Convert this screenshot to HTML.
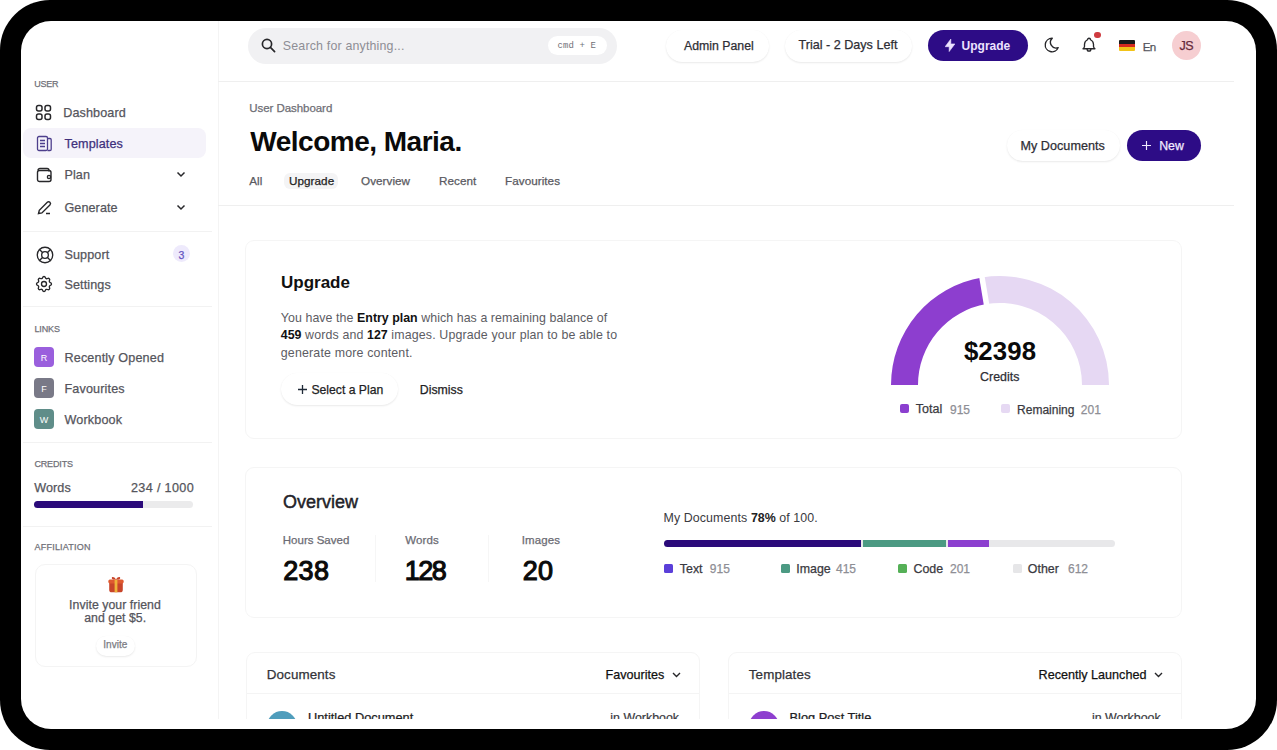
<!DOCTYPE html>
<html><head><meta charset="utf-8"><style>
html,body{margin:0;padding:0;width:1277px;height:750px;overflow:hidden;background:#fff;}
body{font-family:"Liberation Sans",sans-serif;position:relative;}
.frame{position:absolute;left:0;top:0;width:1277px;height:750px;background:#000;border-radius:50px;}
.inner{position:absolute;left:21px;top:21px;width:1235px;height:708px;background:#fff;border-radius:30px;overflow:hidden;}
.stage{position:absolute;left:-21px;top:-21px;width:1277px;height:750px;}
.t{position:absolute;line-height:1;white-space:nowrap;}
.r{position:absolute;}
.clip{position:absolute;overflow:hidden;}
b{font-weight:700;}
</style></head><body>
<div class="frame"></div>
<div class="inner"><div class="stage">
<div class="t" style="left:34.20px;top:79.98px;font-size:9px;color:#707078;font-weight:400;letter-spacing:-0.2px;-webkit-text-stroke:0.25px currentColor;">USER</div>
<svg class="r" style="left:35px;top:104px" width="17" height="17" viewBox="0 0 17 17" fill="none" stroke="#27272a" stroke-width="1.5"><rect x="1.5" y="1.5" width="5.5" height="5.5" rx="2"/><rect x="10" y="1.5" width="5.5" height="5.5" rx="2"/><rect x="1.5" y="10" width="5.5" height="5.5" rx="2"/><rect x="10" y="10" width="5.5" height="5.5" rx="2"/></svg>
<div class="t" style="left:63.30px;top:107.23px;font-size:12.6px;color:#55555c;font-weight:400;letter-spacing:0.1px;-webkit-text-stroke:0.25px currentColor;">Dashboard</div>
<div class="r" style="left:22.5px;top:128px;width:183px;height:30px;background:#f5f3fa;border-radius:8px;"></div>
<svg class="r" style="left:36px;top:135px" width="17" height="17" viewBox="0 0 17 17" fill="none" stroke="#4d3f8c" stroke-width="1.3"><rect x="1.5" y="1.5" width="10" height="14" rx="1.5"/><path d="M11.5 3.5h2.5a1.2 1.2 0 0 1 1.2 1.2v9.6a1.2 1.2 0 0 1-1.2 1.2h-2.5"/><path d="M4 5.5h5M4 8.5h5M4 11.5h5"/></svg>
<div class="t" style="left:64.60px;top:138.23px;font-size:12.6px;color:#40307c;font-weight:400;letter-spacing:0.1px;-webkit-text-stroke:0.25px currentColor;">Templates</div>
<svg class="r" style="left:36px;top:166px" width="17" height="17" viewBox="0 0 17 17" fill="none" stroke="#27272a" stroke-width="1.4"><path d="M2 4.5a2 2 0 0 1 2-2h7a2 2 0 0 1 2 2v1"/><rect x="1.5" y="4.5" width="13.5" height="11" rx="2"/><circle cx="13" cy="11" r="1.6"/></svg>
<div class="t" style="left:64.40px;top:169.43px;font-size:12.6px;color:#55555c;font-weight:400;letter-spacing:0.1px;-webkit-text-stroke:0.25px currentColor;">Plan</div>
<svg class="r" style="left:176px;top:171px" width="10" height="7" viewBox="0 0 10 7" fill="none" stroke="#27272a" stroke-width="1.5"><path d="M1.5 1.5l3.5 3.5 3.5-3.5"/></svg>
<svg class="r" style="left:36px;top:199px" width="17" height="17" viewBox="0 0 17 17" fill="none" stroke="#27272a" stroke-width="1.4"><path d="M2.5 14.5l.8-3.2 8-8a1.8 1.8 0 0 1 2.6 2.6l-8 8z"/><path d="M10 14.5h4"/></svg>
<div class="t" style="left:64.40px;top:201.73px;font-size:12.6px;color:#55555c;font-weight:400;letter-spacing:0.1px;-webkit-text-stroke:0.25px currentColor;">Generate</div>
<svg class="r" style="left:176px;top:203.5px" width="10" height="7" viewBox="0 0 10 7" fill="none" stroke="#27272a" stroke-width="1.5"><path d="M1.5 1.5l3.5 3.5 3.5-3.5"/></svg>
<div class="r" style="left:23px;top:230.5px;width:189px;height:1px;background:#f2f2f2;"></div>
<svg class="r" style="left:34.5px;top:244.5px" width="20" height="20" viewBox="0 0 24 24" fill="none" stroke="#27272a" stroke-width="1.6" stroke-linecap="round"><circle cx="12" cy="12" r="4"/><circle cx="12" cy="12" r="9.3"/><path d="M15 15l3.6 3.6M9 15l-3.6 3.6M5.4 5.4L9 9M18.6 5.4L15 9"/></svg>
<div class="t" style="left:64.50px;top:248.73px;font-size:12.6px;color:#55555c;font-weight:400;letter-spacing:0.1px;-webkit-text-stroke:0.25px currentColor;">Support</div>
<div class="r" style="left:173px;top:245px;width:17px;height:17px;background:#eeeafc;border-radius:50%;"></div>
<div class="t" style="left:181.50px;transform:translateX(-50%);top:249.51px;font-size:10.5px;color:#6354c0;font-weight:400;letter-spacing:0px;-webkit-text-stroke:0.25px currentColor;">3</div>
<svg class="r" style="left:34.3px;top:274.3px" width="20" height="20" viewBox="0 0 24 24" fill="none" stroke="#27272a" stroke-width="1.6" stroke-linecap="round" stroke-linejoin="round"><path d="M10.325 4.317c.426 -1.756 2.924 -1.756 3.35 0a1.724 1.724 0 0 0 2.573 1.066c1.543 -.94 3.31 .826 2.37 2.37a1.724 1.724 0 0 0 1.065 2.572c1.756 .426 1.756 2.924 0 3.35a1.724 1.724 0 0 0 -1.066 2.573c.94 1.543 -.826 3.31 -2.37 2.37a1.724 1.724 0 0 0 -2.572 1.065c-.426 1.756 -2.924 1.756 -3.35 0a1.724 1.724 0 0 0 -2.573 -1.066c-1.543 .94 -3.31 -.826 -2.37 -2.37a1.724 1.724 0 0 0 -1.065 -2.572c-1.756 -.426 -1.756 -2.924 0 -3.35a1.724 1.724 0 0 0 1.066 -2.573c-.94 -1.543 .826 -3.31 2.37 -2.37c1 .608 2.296 .07 2.572 -1.065z"/><circle cx="12" cy="12" r="3"/></svg>
<div class="t" style="left:64.50px;top:279.03px;font-size:12.6px;color:#55555c;font-weight:400;letter-spacing:0.1px;-webkit-text-stroke:0.25px currentColor;">Settings</div>
<div class="r" style="left:23px;top:306px;width:189px;height:1px;background:#f2f2f2;"></div>
<div class="t" style="left:34.40px;top:324.88px;font-size:9px;color:#707078;font-weight:400;letter-spacing:-0.1px;-webkit-text-stroke:0.25px currentColor;">LINKS</div>
<div class="r" style="left:34px;top:347.3px;width:20px;height:20px;background:#9a5fdd;border-radius:4px;"></div>
<div class="t" style="left:44.00px;transform:translateX(-50%);top:353.88px;font-size:9px;color:#ffffff;font-weight:400;letter-spacing:0px;">R</div>
<div class="t" style="left:64.50px;top:352.33px;font-size:12.6px;color:#55555c;font-weight:400;letter-spacing:0.15px;-webkit-text-stroke:0.25px currentColor;">Recently Opened</div>
<div class="r" style="left:34px;top:378.3px;width:20px;height:20px;background:#797987;border-radius:4px;"></div>
<div class="t" style="left:44.00px;transform:translateX(-50%);top:384.88px;font-size:9px;color:#ffffff;font-weight:400;letter-spacing:0px;">F</div>
<div class="t" style="left:64.50px;top:383.33px;font-size:12.6px;color:#55555c;font-weight:400;letter-spacing:0.15px;-webkit-text-stroke:0.25px currentColor;">Favourites</div>
<div class="r" style="left:34px;top:409.4px;width:20px;height:20px;background:#5f8d89;border-radius:4px;"></div>
<div class="t" style="left:44.00px;transform:translateX(-50%);top:415.98px;font-size:9px;color:#ffffff;font-weight:400;letter-spacing:0px;">W</div>
<div class="t" style="left:64.50px;top:414.43px;font-size:12.6px;color:#55555c;font-weight:400;letter-spacing:0.15px;-webkit-text-stroke:0.25px currentColor;">Workbook</div>
<div class="r" style="left:23px;top:442px;width:189px;height:1px;background:#f2f2f2;"></div>
<div class="t" style="left:34.40px;top:459.88px;font-size:9px;color:#707078;font-weight:400;letter-spacing:-0.15px;-webkit-text-stroke:0.25px currentColor;">CREDITS</div>
<div class="t" style="left:34.20px;top:481.93px;font-size:12.6px;color:#55555c;font-weight:400;letter-spacing:0.1px;-webkit-text-stroke:0.25px currentColor;">Words</div>
<div class="t" style="right:1083.00px;top:481.93px;font-size:12.6px;color:#55555c;font-weight:400;letter-spacing:0.35px;-webkit-text-stroke:0.25px currentColor;">234 / 1000</div>
<div class="r" style="left:34px;top:501px;width:159px;height:7px;background:#ebebec;border-radius:4px;"></div>
<div class="r" style="left:34px;top:501px;width:109px;height:7px;background:#2b0a7a;border-radius:4px 0 0 4px;"></div>
<div class="r" style="left:23px;top:525.5px;width:189px;height:1px;background:#f2f2f2;"></div>
<div class="t" style="left:34.60px;top:542.88px;font-size:9px;color:#707078;font-weight:400;letter-spacing:0.2px;-webkit-text-stroke:0.25px currentColor;">AFFILIATION</div>
<div class="r" style="left:34.5px;top:563.5px;width:162.5px;height:103.5px;border:1px solid #f4f4f4;border-radius:10px;box-sizing:border-box;"></div>
<svg class="r" style="left:107px;top:574.5px" width="18" height="18" viewBox="0 0 18 18"><path d="M2.2 7.5h13.6v7.2a2.6 2.6 0 0 1-2.6 2.6H4.8a2.6 2.6 0 0 1-2.6-2.6z" fill="#c8452a"/><rect x="1.3" y="4.6" width="15.4" height="3.8" rx="1.6" fill="#df5a30"/><rect x="7.6" y="4.6" width="2.8" height="12.7" fill="#efb23a"/><path d="M9 4.6C7.6 1.6 4.6 1.4 4.8 3.2 5 4.4 7 4.6 9 4.6zM9 4.6c1.4-3 4.4-3.2 4.2-1.4-.2 1.2-2.2 1.4-4.2 1.4z" fill="#c8452a"/></svg>
<div class="t" style="left:115.00px;transform:translateX(-50%);top:598.69px;font-size:12.3px;color:#55555c;font-weight:400;letter-spacing:0.05px;-webkit-text-stroke:0.25px currentColor;">Invite your friend</div>
<div class="t" style="left:115.20px;transform:translateX(-50%);top:611.89px;font-size:12.3px;color:#55555c;font-weight:400;letter-spacing:0.05px;-webkit-text-stroke:0.25px currentColor;">and get $5.</div>
<div class="r" style="left:96px;top:636px;width:38.5px;height:20px;background:#fff;border-radius:10px;box-shadow:0 1px 2px rgba(0,0,0,0.085),0 0 0.5px rgba(0,0,0,0.04);"></div>
<div class="t" style="left:115.30px;transform:translateX(-50%);top:640.43px;font-size:10px;color:#7c7c83;font-weight:400;letter-spacing:0px;-webkit-text-stroke:0.25px currentColor;">Invite</div>
<div class="r" style="left:217.7px;top:21px;width:1px;height:698px;background:#f4f4f4;"></div>
<div class="r" style="left:248px;top:28px;width:369px;height:36px;background:#f1f1f3;border-radius:18px;"></div>
<svg class="r" style="left:260px;top:37px" width="17" height="17" viewBox="0 0 17 17" fill="none" stroke="#27272a" stroke-width="1.7"><circle cx="7" cy="7" r="4.6"/><path d="M10.4 10.4l4.2 4.2" stroke-linecap="round"/></svg>
<div class="t" style="left:282.80px;top:39.50px;font-size:12.4px;color:#8e8e95;font-weight:400;letter-spacing:0.18px;">Search for anything...</div>
<div class="r" style="left:548px;top:36px;width:59px;height:19px;background:#fff;border-radius:10px;"></div>
<div class="t" style="left:557.50px;top:42.08px;font-size:9px;color:#707077;font-weight:400;letter-spacing:0.1px;font-family:'Liberation Mono',monospace;">cmd + E</div>
<div class="r" style="left:666px;top:30px;width:103px;height:32px;background:#fff;border-radius:16px;box-shadow:0 1px 2px rgba(0,0,0,0.085),0 0 0.5px rgba(0,0,0,0.04);"></div>
<div class="t" style="left:684.00px;top:39.59px;font-size:12.3px;color:#2e2e35;font-weight:400;letter-spacing:0px;-webkit-text-stroke:0.25px currentColor;">Admin Panel</div>
<div class="r" style="left:785px;top:30px;width:127px;height:32px;background:#fff;border-radius:16px;box-shadow:0 1px 2px rgba(0,0,0,0.085),0 0 0.5px rgba(0,0,0,0.04);"></div>
<div class="t" style="left:798.50px;top:39.33px;font-size:12.6px;color:#2e2e35;font-weight:400;letter-spacing:0px;-webkit-text-stroke:0.25px currentColor;">Trial - 2 Days Left</div>
<div class="r" style="left:928px;top:30px;width:100px;height:31px;background:#2d0c86;border-radius:16px;"></div>
<svg class="r" style="left:945.3px;top:39.3px" width="10" height="12.6" viewBox="5 3 14 18"><path d="M13.2 3v7h5.8l-8.2 11v-7H5z" fill="#ece2ff" stroke="#ece2ff" stroke-width="0.8" stroke-linejoin="round"/></svg>
<div class="t" style="left:961.60px;top:39.84px;font-size:12px;color:#ece2ff;font-weight:700;letter-spacing:0px;">Upgrade</div>
<svg class="r" style="left:1043px;top:36.3px" width="18" height="18" viewBox="0 0 24 24" fill="none" stroke="#27272a" stroke-width="1.8" stroke-linecap="round" stroke-linejoin="round"><path d="M12 3c.132 0 .263 0 .393 0a7.5 7.5 0 0 0 7.92 12.446a9 9 0 1 1 -8.313 -12.454z"/></svg>
<svg class="r" style="left:1080px;top:36px" width="18" height="18" viewBox="0 0 24 24" fill="none" stroke="#27272a" stroke-width="1.8" stroke-linecap="round" stroke-linejoin="round"><path d="M10 5a2 2 0 1 1 4 0a7 7 0 0 1 4 6v3a4 4 0 0 0 2 3h-16a4 4 0 0 0 2 -3v-3a7 7 0 0 1 4 -6"/><path d="M9.5 17v.5a2.5 2.5 0 0 0 5 0v-.5"/></svg>
<div class="r" style="left:1094.2px;top:31.8px;width:6.6px;height:6.6px;background:#cf3b40;border-radius:50%;"></div>
<div class="r" style="left:1118.5px;top:40px;width:16.5px;height:10.5px;background:linear-gradient(#1a1a1a 0 33%,#d62a1f 33% 66%,#f2c318 66%);border-radius:1px;"></div>
<div class="t" style="left:1142.80px;top:40.88px;font-size:11.6px;color:#55555c;font-weight:400;letter-spacing:-0.7px;-webkit-text-stroke:0.25px currentColor;">En</div>
<div class="r" style="left:1171.5px;top:30.6px;width:29.5px;height:29.8px;background:#f6ced1;border-radius:50%;"></div>
<div class="t" style="left:1186.40px;transform:translateX(-50%);top:40.32px;font-size:12.5px;color:#66293a;font-weight:400;letter-spacing:-0.4px;-webkit-text-stroke:0.25px currentColor;">JS</div>
<div class="r" style="left:218px;top:80.5px;width:1016px;height:1px;background:#efefef;"></div>
<div class="t" style="left:249.20px;top:102.77px;font-size:11.5px;color:#6e6e75;font-weight:400;letter-spacing:-0.05px;-webkit-text-stroke:0.25px currentColor;">User Dashboard</div>
<div class="t" style="left:250.30px;top:127.90px;font-size:28px;color:#0a0a0a;font-weight:700;letter-spacing:-0.5px;">Welcome, Maria.</div>
<div class="r" style="left:284px;top:172.5px;width:54px;height:16.5px;background:#f4f4f5;border-radius:6px;"></div>
<div class="t" style="left:249.20px;top:174.80px;font-size:11.7px;color:#5a5a61;font-weight:400;letter-spacing:0.05px;-webkit-text-stroke:0.25px currentColor;">All</div>
<div class="t" style="left:289.00px;top:174.80px;font-size:11.7px;color:#1e1e22;font-weight:400;letter-spacing:0.05px;-webkit-text-stroke:0.25px currentColor;">Upgrade</div>
<div class="t" style="left:361.00px;top:174.80px;font-size:11.7px;color:#5a5a61;font-weight:400;letter-spacing:0.05px;-webkit-text-stroke:0.25px currentColor;">Overview</div>
<div class="t" style="left:439.00px;top:174.80px;font-size:11.7px;color:#5a5a61;font-weight:400;letter-spacing:0.05px;-webkit-text-stroke:0.25px currentColor;">Recent</div>
<div class="t" style="left:505.00px;top:174.80px;font-size:11.7px;color:#5a5a61;font-weight:400;letter-spacing:0.05px;-webkit-text-stroke:0.25px currentColor;">Favourites</div>
<div class="r" style="left:1007px;top:130px;width:113px;height:31px;background:#fff;border-radius:16px;box-shadow:0 1px 2px rgba(0,0,0,0.085),0 0 0.5px rgba(0,0,0,0.04);"></div>
<div class="t" style="left:1020.40px;top:139.73px;font-size:12.6px;color:#2e2e35;font-weight:400;letter-spacing:0.05px;-webkit-text-stroke:0.25px currentColor;">My Documents</div>
<div class="r" style="left:1127px;top:130px;width:74px;height:31px;background:#2d0c86;border-radius:16px;"></div>
<svg class="r" style="left:1140.5px;top:140px" width="11" height="11" viewBox="0 0 11 11" stroke="#f2eaff" stroke-width="1.15"><path d="M5.5 1v9M1 5.5h9"/></svg>
<div class="t" style="left:1159.20px;top:139.79px;font-size:12.3px;color:#f2eaff;font-weight:400;letter-spacing:0px;-webkit-text-stroke:0.25px currentColor;">New</div>
<div class="r" style="left:218px;top:205px;width:1016px;height:1px;background:#efefef;"></div>
<div class="r" style="left:245px;top:240px;width:937px;height:199px;border:1px solid #f5f5f5;border-radius:9px;box-sizing:border-box;"></div>
<div class="t" style="left:281.00px;top:273.81px;font-size:17px;color:#111111;font-weight:700;letter-spacing:0px;">Upgrade</div>
<div class="t" style="left:280.80px;top:312.40px;font-size:12.4px;color:#5c5c63;font-weight:400;letter-spacing:0.07px;">You have the <b style="color:#111;letter-spacing:0">Entry plan</b> which has a remaining balance of</div>
<div class="t" style="left:280.80px;top:329.40px;font-size:12.4px;color:#5c5c63;font-weight:400;letter-spacing:0.14px;"><b style="color:#111;letter-spacing:0">459</b> words and <b style="color:#111;letter-spacing:0">127</b> images. Upgrade your plan to be able to</div>
<div class="t" style="left:280.80px;top:346.80px;font-size:12.4px;color:#5c5c63;font-weight:400;letter-spacing:0.17px;">generate more content.</div>
<div class="r" style="left:281px;top:373px;width:117px;height:32px;background:#fff;border-radius:16px;box-shadow:0 1px 2px rgba(0,0,0,0.085),0 0 0.5px rgba(0,0,0,0.04);"></div>
<svg class="r" style="left:296.5px;top:383.5px" width="11" height="11" viewBox="0 0 11 11" stroke="#1f2937" stroke-width="1.3"><path d="M5.5 1v9M1 5.5h9"/></svg>
<div class="t" style="left:311.40px;top:384.17px;font-size:12.2px;color:#1e1e24;font-weight:400;letter-spacing:0px;-webkit-text-stroke:0.25px currentColor;">Select a Plan</div>
<div class="t" style="left:419.80px;top:384.09px;font-size:12.3px;color:#1e1e24;font-weight:400;letter-spacing:0px;-webkit-text-stroke:0.25px currentColor;">Dismiss</div>
<svg class="r" style="left:880px;top:265px" width="240" height="130" viewBox="0 0 240 130">
<path d="M 11 120 A 109 109 0 0 1 102.01 12.49 L 106.47 39.12 A 82 82 0 0 0 38 120 Z" fill="#8d3ecf"/>
<path d="M 102.01 12.49 A 109 109 0 0 1 229 120 L 202 120 A 82 82 0 0 0 106.47 39.12 Z" fill="#e6d8f3"/>
<path d="M 107.13 43.07 L 101.35 8.55" stroke="#fff" stroke-width="5.5"/>
</svg>
<div class="t" style="left:1000.00px;transform:translateX(-50%);top:338.86px;font-size:25.8px;color:#0a0a0a;font-weight:700;letter-spacing:0.1px;">$2398</div>
<div class="t" style="left:999.80px;transform:translateX(-50%);top:370.90px;font-size:12.4px;color:#2e2e35;font-weight:400;letter-spacing:0.05px;-webkit-text-stroke:0.25px currentColor;">Credits</div>
<div class="r" style="left:899.5px;top:404.4px;width:9px;height:9px;background:#8b3fcf;border-radius:2px;"></div>
<div class="t" style="left:915.80px;top:403.42px;font-size:12.5px;color:#3a3a41;font-weight:400;letter-spacing:0px;-webkit-text-stroke:0.25px currentColor;">Total</div>
<div class="t" style="left:950.00px;top:403.84px;font-size:12px;color:#8e8e95;font-weight:400;letter-spacing:0px;-webkit-text-stroke:0.25px currentColor;">915</div>
<div class="r" style="left:1001.3px;top:404.4px;width:9px;height:9px;background:#e6d9f3;border-radius:2px;"></div>
<div class="t" style="left:1017.10px;top:403.84px;font-size:12px;color:#3a3a41;font-weight:400;letter-spacing:0px;-webkit-text-stroke:0.25px currentColor;">Remaining</div>
<div class="t" style="left:1080.80px;top:403.84px;font-size:12px;color:#8e8e95;font-weight:400;letter-spacing:0px;-webkit-text-stroke:0.25px currentColor;">201</div>
<div class="r" style="left:245px;top:467px;width:937px;height:151px;border:1px solid #f5f5f5;border-radius:9px;box-sizing:border-box;"></div>
<div class="t" style="left:283.10px;top:493.46px;font-size:18px;color:#222228;font-weight:400;letter-spacing:0px;-webkit-text-stroke:0.45px #222228;">Overview</div>
<div class="t" style="left:282.80px;top:534.87px;font-size:11.5px;color:#6b6b73;font-weight:400;letter-spacing:0px;-webkit-text-stroke:0.25px currentColor;">Hours Saved</div>
<div class="t" style="left:405.30px;top:534.87px;font-size:11.5px;color:#6b6b73;font-weight:400;letter-spacing:0.1px;-webkit-text-stroke:0.25px currentColor;">Words</div>
<div class="t" style="left:521.80px;top:534.87px;font-size:11.5px;color:#6b6b73;font-weight:400;letter-spacing:0.1px;-webkit-text-stroke:0.25px currentColor;">Images</div>
<div class="t" style="left:283.30px;top:557.64px;font-size:27px;color:#0a0a0a;font-weight:400;letter-spacing:0.3px;-webkit-text-stroke:1.1px #0a0a0a;">238</div>
<div class="t" style="left:404.80px;top:557.64px;font-size:27px;color:#0a0a0a;font-weight:400;letter-spacing:-1.6px;-webkit-text-stroke:1.1px #0a0a0a;">128</div>
<div class="t" style="left:522.80px;top:557.64px;font-size:27px;color:#0a0a0a;font-weight:400;letter-spacing:0.3px;-webkit-text-stroke:1.1px #0a0a0a;">20</div>
<div class="r" style="left:374.5px;top:535px;width:1px;height:47px;background:#f6f6f6;"></div>
<div class="r" style="left:487.5px;top:535px;width:1px;height:47px;background:#f6f6f6;"></div>
<div class="t" style="left:663.50px;top:511.90px;font-size:12.4px;color:#3a3a41;font-weight:400;letter-spacing:0.1px;">My Documents <b style="color:#222;letter-spacing:0">78%</b> of 100.</div>
<div class="r" style="left:664px;top:539.5px;width:450.5px;height:7px;background:#e8e8ea;border-radius:4px;"></div>
<div class="r" style="left:664px;top:539.5px;width:197px;height:7px;background:#2b0a7a;border-radius:4px 0 0 4px;"></div>
<div class="r" style="left:862.5px;top:539.5px;width:83.5px;height:7px;background:#4c9a83;"></div>
<div class="r" style="left:948px;top:539.5px;width:41px;height:7px;background:#8c3fcf;"></div>
<div class="r" style="left:663.7px;top:564.3px;width:9px;height:9px;background:#5b3fd9;border-radius:1.5px;"></div>
<div class="t" style="left:679.80px;top:562.90px;font-size:12.4px;color:#3a3a41;font-weight:400;letter-spacing:0px;-webkit-text-stroke:0.25px currentColor;">Text</div>
<div class="t" style="left:709.80px;top:563.24px;font-size:12px;color:#8e8e95;font-weight:400;letter-spacing:0px;-webkit-text-stroke:0.25px currentColor;">915</div>
<div class="r" style="left:781.4px;top:564.3px;width:9px;height:9px;background:#4c9a83;border-radius:1.5px;"></div>
<div class="t" style="left:796.30px;top:562.90px;font-size:12.4px;color:#3a3a41;font-weight:400;letter-spacing:0px;-webkit-text-stroke:0.25px currentColor;">Image</div>
<div class="t" style="left:836.00px;top:563.24px;font-size:12px;color:#8e8e95;font-weight:400;letter-spacing:0px;-webkit-text-stroke:0.25px currentColor;">415</div>
<div class="r" style="left:897.8px;top:564.3px;width:9px;height:9px;background:#55b057;border-radius:1.5px;"></div>
<div class="t" style="left:913.50px;top:562.90px;font-size:12.4px;color:#3a3a41;font-weight:400;letter-spacing:0px;-webkit-text-stroke:0.25px currentColor;">Code</div>
<div class="t" style="left:950.00px;top:563.24px;font-size:12px;color:#8e8e95;font-weight:400;letter-spacing:0px;-webkit-text-stroke:0.25px currentColor;">201</div>
<div class="r" style="left:1012.8px;top:564.3px;width:9px;height:9px;background:#e6e6e8;border-radius:1.5px;"></div>
<div class="t" style="left:1027.80px;top:562.90px;font-size:12.4px;color:#3a3a41;font-weight:400;letter-spacing:0px;-webkit-text-stroke:0.25px currentColor;">Other</div>
<div class="t" style="left:1068.00px;top:563.24px;font-size:12px;color:#8e8e95;font-weight:400;letter-spacing:0px;-webkit-text-stroke:0.25px currentColor;">612</div>
<div class="clip" style="left:218px;top:630px;width:1016px;height:89px;">
<div class="r" style="left:28px;top:21.5px;width:453.5px;height:120px;border:1px solid #f5f5f5;border-radius:9px;box-sizing:border-box;"></div>
<div class="r" style="left:509.5px;top:21.5px;width:454.5px;height:120px;border:1px solid #f5f5f5;border-radius:9px;box-sizing:border-box;"></div>
</div>
<div class="t" style="left:266.80px;top:668.46px;font-size:13.4px;color:#333339;font-weight:400;letter-spacing:0.1px;-webkit-text-stroke:0.25px currentColor;">Documents</div>
<div class="t" style="left:605.60px;top:668.83px;font-size:12.6px;color:#111111;font-weight:400;letter-spacing:0px;-webkit-text-stroke:0.25px currentColor;">Favourites</div>
<svg class="r" style="left:671.5px;top:672px" width="9" height="6" viewBox="0 0 9 6" fill="none" stroke="#27272a" stroke-width="1.4"><path d="M1 1l3.5 3.5 3.5-3.5"/></svg>
<div class="t" style="left:748.80px;top:668.46px;font-size:13.4px;color:#333339;font-weight:400;letter-spacing:0.1px;-webkit-text-stroke:0.25px currentColor;">Templates</div>
<div class="t" style="left:1038.60px;top:668.83px;font-size:12.6px;color:#111111;font-weight:400;letter-spacing:0px;-webkit-text-stroke:0.25px currentColor;">Recently Launched</div>
<svg class="r" style="left:1153.5px;top:672px" width="9" height="6" viewBox="0 0 9 6" fill="none" stroke="#27272a" stroke-width="1.4"><path d="M1 1l3.5 3.5 3.5-3.5"/></svg>
<div class="r" style="left:247px;top:693px;width:451.5px;height:1px;background:#f4f4f4;"></div>
<div class="r" style="left:728.5px;top:693px;width:452.5px;height:1px;background:#f4f4f4;"></div>
<div class="clip" style="left:218px;top:694px;width:1016px;height:25px;">
<div class="r" style="left:49px;top:16.8px;width:30px;height:30px;border-radius:50%;background:#4f9dbc"></div>
<div class="r" style="left:530.5px;top:16.8px;width:30px;height:30px;border-radius:50%;background:#8e3fcf"></div>
<div class="t" style="left:90px;top:17.76px;font-size:12.8px;color:#1e1e24;-webkit-text-stroke:0.25px currentColor;">Untitled Document</div>
<div class="t" style="right:555px;top:18.10px;font-size:12.4px;color:#3a3a41;-webkit-text-stroke:0.2px currentColor;">in Workbook</div>
<div class="t" style="left:571.5px;top:17.76px;font-size:12.8px;color:#1e1e24;-webkit-text-stroke:0.25px currentColor;">Blog Post Title</div>
<div class="t" style="right:73.4px;top:18.10px;font-size:12.4px;color:#3a3a41;-webkit-text-stroke:0.2px currentColor;">in Workbook</div>
</div>
</div></div>
</body></html>
